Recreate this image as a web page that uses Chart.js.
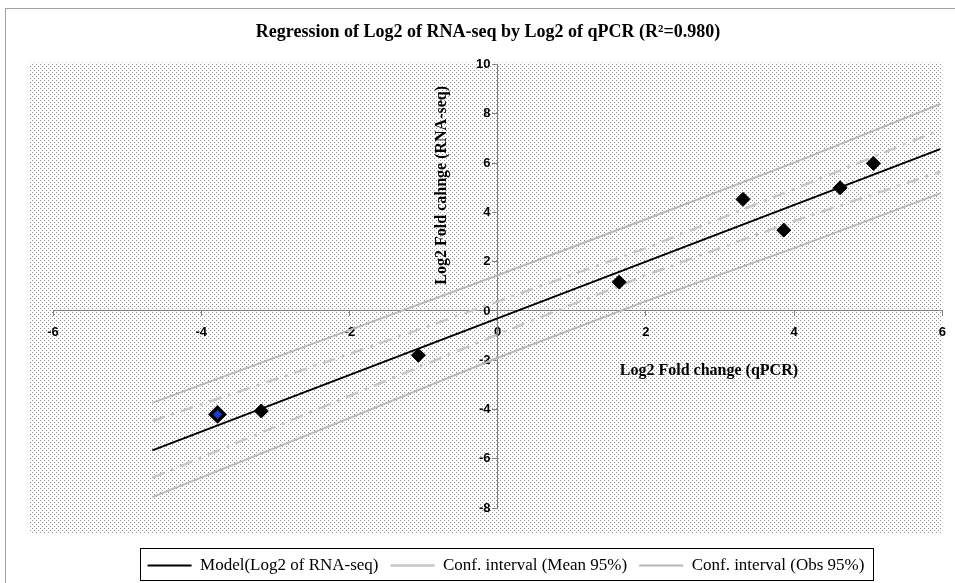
<!DOCTYPE html>
<html>
<head>
  <script src="https://cdn.jsdelivr.net/npm/chart.js@4/dist/chart.umd.min.js"></script>
  <style>
    body { margin: 0; background: #fff; }
    #wrap { width: 955px; height: 583px; }
  </style>
  <script>
    // observed points
    var qpcr = [-3.78, -3.19, -1.07, 1.64, 3.31, 3.86, 4.62, 5.07];
    var rnaseq = [-4.2, -4.06, -1.8, 1.17, 4.53, 3.28, 5.0, 5.99];

    // regression line
    var fitX = [-4.66, 5.97];
    var modelY = [-5.66, 6.57];

    // confidence bands, read at these x values
    var bandX = [-4.66, -2, 0, 2, 4, 5.97];
    var meanUpper = [-4.47, -1.75, 0.38, 2.55, 4.95, 7.35];
    var meanLower = [-6.78, -3.45, -0.95, 1.45, 3.65, 5.65];
    var obsUpper = [-3.73, -0.78, 1.45, 3.72, 6.02, 8.4];
    var obsLower = [-7.56, -4.35, -1.9, 0.4, 2.55, 4.77];

    var xTicks = [-6, -4, -2, 0, 2, 4, 6];
    var yTicks = [-8, -6, -4, -2, 0, 2, 4, 6, 8, 10];

    var titleText = 'Regression of Log2 of RNA-seq by Log2 of qPCR (R\u00b2=0.980)';
    var xTitle = 'Log2 Fold change (qPCR)';
    var yTitle = 'Log2 Fold cahnge (RNA-seq)';
    var labels = ['Model(Log2 of RNA-seq)', 'Conf. interval (Mean 95%)', 'Conf. interval (Obs 95%)'];

    function pairs(xs, ys) {
      return xs.map((x, i) => ({ x: x, y: ys[i] }));
    }

    function dotPattern(ctx) {
      var c = document.createElement('canvas');
      c.width = 4; c.height = 4;
      var g = c.getContext('2d');
      g.fillStyle = '#fff';
      g.fillRect(0, 0, 4, 4);
      g.fillStyle = '#8c8c8c';
      g.fillRect(0, 0, 1, 1);
      g.fillRect(2, 2, 1, 1);
      return ctx.createPattern(c, 'repeat');
    }

    var decor = {
      id: 'decor',
      beforeDraw(chart) {
        var ctx = chart.ctx, a = chart.chartArea;
        ctx.save();
        ctx.fillStyle = dotPattern(ctx);
        ctx.fillRect(a.left - 23, a.top - 2, a.right - a.left + 23, a.bottom - a.top + 27);
        ctx.strokeStyle = '#a0a0a0';
        ctx.lineWidth = 1;
        ctx.strokeRect(5.5, 8.5, 960, 600);
        ctx.restore();
      },
      afterLayout(chart) {
        var lg = chart.legend;
        var h = lg.bottom - lg.top;
        lg.top = 545;
        lg.bottom = 545 + h;
        lg.left += 8;
        lg.right += 8;
        chart.titleBlock.left -= 10;
        chart.titleBlock.right -= 10;
      },
      afterDraw(chart) {
        var ctx = chart.ctx;
        var xs = chart.scales.x, ys = chart.scales.y;
        ctx.save();
        ctx.fillStyle = '#000';
        ctx.font = 'bold 16px "Liberation Serif"';
        ctx.textAlign = 'center';
        ctx.textBaseline = 'middle';
        ctx.fillText(xTitle, xs.getPixelForValue(2.85), ys.getPixelForValue(-2.45));
        ctx.translate(xs.getPixelForValue(-0.75), ys.getPixelForValue(5.1));
        ctx.rotate(-Math.PI / 2);
        ctx.fillText(yTitle, 0, 0);
        ctx.restore();

        // legend frame around the row of items
        var lg = chart.legend;
        var pad = lg.options.labels.padding;
        var rowW = lg.lineWidths[0] - pad;
        var x0 = (lg.left + pad + lg.right - lg.lineWidths[0]) / 2;
        ctx.save();
        ctx.strokeStyle = '#000';
        ctx.lineWidth = 1;
        ctx.strokeRect(Math.round(x0 - 8) + 0.5, 548.5, Math.round(rowW + 16), 32);
        ctx.restore();
      }
    };

    window.onload = function () {
      var ctx = document.getElementById('regression').getContext('2d');
      var tickFont = { family: '"Liberation Sans"', size: 13, weight: 'bold' };
      new Chart(ctx, {
        type: 'scatter',
        data: {
          datasets: [
            {
              label: 'points',
              data: pairs(qpcr, rnaseq),
              pointStyle: 'rectRot',
              pointRadius: 7,
              pointHoverRadius: 7,
              pointBorderWidth: qpcr.map((v, i) => i === 0 ? 3.5 : 1),
              pointBorderColor: '#000',
              pointBackgroundColor: qpcr.map((v, i) => i === 0 ? '#1a3cc8' : '#000')
            },
            {
              label: labels[0],
              data: pairs(fitX, modelY),
              showLine: true,
              borderColor: '#000',
              borderWidth: 2,
              pointRadius: 0
            },
            {
              label: labels[1],
              data: pairs(bandX, meanUpper),
              showLine: true,
              borderColor: '#c6c6c6',
              borderWidth: 2.5,
              borderDash: [13, 7, 3, 7],
              pointRadius: 0
            },
            {
              label: labels[1],
              data: pairs(bandX, meanLower),
              showLine: true,
              borderColor: '#c6c6c6',
              borderWidth: 2.5,
              borderDash: [13, 7, 3, 7],
              pointRadius: 0
            },
            {
              label: labels[2],
              data: pairs(bandX, obsUpper),
              showLine: true,
              borderColor: '#b8b8b8',
              borderWidth: 2,
              pointRadius: 0
            },
            {
              label: labels[2],
              data: pairs(bandX, obsLower),
              showLine: true,
              borderColor: '#b8b8b8',
              borderWidth: 2,
              pointRadius: 0
            }
          ]
        },
        options: {
          responsive: false,
          animation: false,
          layout: { padding: { left: 53, right: 12, bottom: 36 } },
          plugins: {
            title: {
              display: true,
              text: titleText,
              color: '#000',
              font: { family: '"Liberation Serif"', size: 18, weight: 'bold' },
              padding: { top: 22, bottom: 21 }
            },
            legend: {
              position: 'bottom',
              labels: {
                filter: (item) => [1, 2, 4].includes(item.datasetIndex),
                usePointStyle: true,
                pointStyle: 'line',
                pointStyleWidth: 44,
                padding: 12,
                color: '#000',
                font: { family: '"Liberation Serif"', size: 17 }
              }
            },
            tooltip: { enabled: false }
          },
          scales: {
            x: {
              type: 'linear',
              position: { y: 0 },
              min: -6,
              max: 6,
              afterBuildTicks: (s) => { s.ticks = xTicks.map(v => ({ value: v })); },
              grid: { display: true, drawOnChartArea: false, drawTicks: true, tickLength: 5, color: '#808080' },
              border: { color: '#808080', width: 1 },
              ticks: { color: '#000', font: tickFont, padding: 9, maxRotation: 0 }
            },
            y: {
              type: 'linear',
              position: { x: 0 },
              min: -8,
              max: 10,
              afterBuildTicks: (s) => { s.ticks = yTicks.map(v => ({ value: v })); },
              grid: { display: true, drawOnChartArea: false, drawTicks: true, tickLength: 5, color: '#808080' },
              border: { color: '#808080', width: 1 },
              // labels sit right-aligned on the axis, so pad them with spaces
              ticks: { color: '#000', font: tickFont, callback: (v) => v + '  ' }
            }
          }
        },
        plugins: [decor]
      });
    };
  </script>
</head>
<body>
  <div id="wrap"><canvas id="regression" width="955" height="583"></canvas></div>
</body>
</html>
